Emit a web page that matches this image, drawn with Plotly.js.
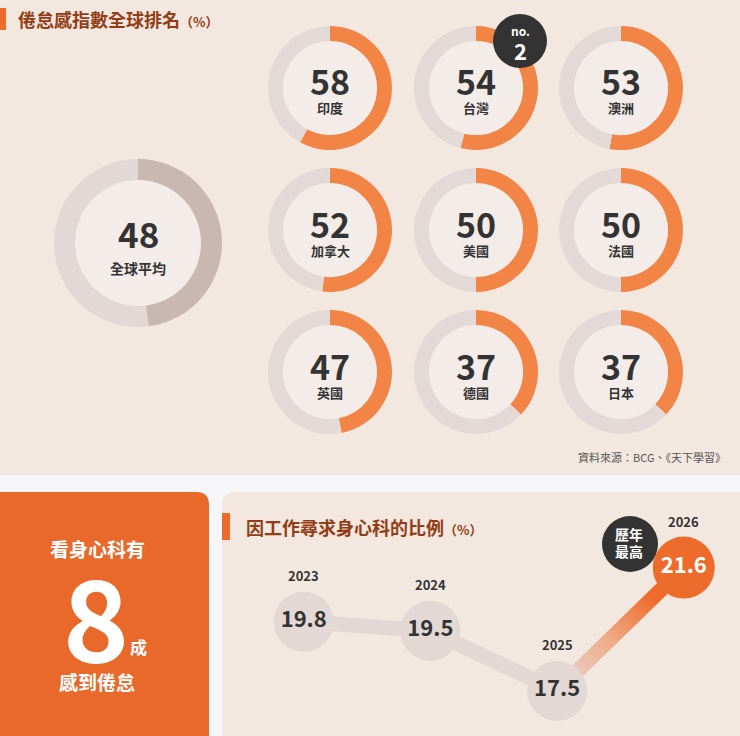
<!DOCTYPE html>
<html>
<head>
<meta charset="utf-8">
<script src="https://cdn.plot.ly/plotly-3.0.1.min.js"></script>
<style>
  html, body { margin: 0; padding: 0; background: #f6f5f7; }
  #chart { width: 740px; height: 736px; }
</style>
</head>
<body>
<div id="chart"></div>
<script>
// ---------- DATA ----------
const countries = ['印度', '台灣', '澳洲', '加拿大', '美國', '法國', '英國', '德國', '日本'];
const burnout = [58, 54, 53, 52, 50, 50, 47, 37, 37];
const globalLabel = '全球平均';
const globalAvg = 48;
const rankBadge = 'no.';
const rankNo = '2';

const years = [2023, 2024, 2025, 2026];
const psychShare = [19.8, 19.5, 17.5, 21.6];

const title1 = '倦怠感指數全球排名';
const title2 = '因工作尋求身心科的比例';
const unitText = '（%）';
const sourceText = '資料來源：BCG、《天下學習》';
const highBadge = ['歷年', '最高'];
const cardTop = '看身心科有';
const cardBig = '8';
const cardUnit = '成';
const cardBottom = '感到倦怠';

// ---------- STYLE / LAYOUT HELPERS ----------
const W = 740, H = 736;
const px = x => x / W;
const py = y => 1 - y / H;
const FONT = '"Noto Sans CJK TC", "Noto Sans", sans-serif';
const ORANGE = '#f28446';
const DEEP_ORANGE = '#e8692a';
const RING_GRAY = '#e3d9d6';
const BEIGE = '#f3e8e0';
const DARK = '#333333';
const BROWN = '#923d16';

const cols = [330, 476, 621];
const rows = [88, 230, 372];
const R = 62;

const traces = [];
const shapes = [];
const annotations = [];

// backgrounds
shapes.push({type: 'rect', xref: 'paper', yref: 'paper', x0: 0, x1: 1, y0: py(475), y1: 1,
  fillcolor: BEIGE, line: {width: 0}, layer: 'below'});
function roundedPath(x0, y0, x1, y1, corner, rad) {
  const P = (x, y) => px(x) + ',' + py(y);
  if (corner === 'tr') {
    return 'M' + P(x0, y1) + ' L' + P(x0, y0) + ' L' + P(x1 - rad, y0) +
      ' Q' + P(x1, y0) + ' ' + P(x1, y0 + rad) + ' L' + P(x1, y1) + ' Z';
  }
  return 'M' + P(x0, y1) + ' L' + P(x0, y0 + rad) + ' Q' + P(x0, y0) + ' ' + P(x0 + rad, y0) +
    ' L' + P(x1, y0) + ' L' + P(x1, y1) + ' Z';
}
shapes.push({type: 'path', xref: 'paper', yref: 'paper', path: roundedPath(0, 492, 209, 737, 'tr', 13),
  fillcolor: DEEP_ORANGE, line: {width: 0}, layer: 'below'});
shapes.push({type: 'path', xref: 'paper', yref: 'paper', path: roundedPath(222, 492, 741, 737, 'tl', 13),
  fillcolor: BEIGE, line: {width: 0}, layer: 'below'});

// title bars
shapes.push({type: 'rect', xref: 'paper', yref: 'paper', x0: 0, x1: px(6), y0: py(30), y1: py(8),
  fillcolor: '#ee6c2b', line: {width: 0}, layer: 'below'});
shapes.push({type: 'rect', xref: 'paper', yref: 'paper', x0: px(222), x1: px(230), y0: py(540), y1: py(513),
  fillcolor: '#ee6c2b', line: {width: 0}, layer: 'below'});

function circleShape(cx, cy, r, color, layer) {
  return {type: 'circle', xref: 'paper', yref: 'paper', x0: px(cx - r), x1: px(cx + r),
    y0: py(cy + r), y1: py(cy - r), fillcolor: color, line: {width: 0}, layer: layer};
}
function ann(text, x, y, size, color, opts) {
  return Object.assign({text: text, xref: 'paper', yref: 'paper', x: px(x), y: py(y),
    xanchor: 'center', yanchor: 'middle', showarrow: false, borderpad: 0,
    font: {family: FONT, size: size, color: color, weight: 700}}, opts || {});
}

// ---------- GLOBAL DONUT ----------
const G = {cx: 138, cy: 243, r: 84};
shapes.push(circleShape(G.cx, G.cy, G.r * 0.75, '#f4ece8', 'below'));
traces.push({
  type: 'pie', values: [globalAvg, 100 - globalAvg], sort: false, direction: 'clockwise', rotation: 0,
  hole: 0.75, textinfo: 'none', hoverinfo: 'skip', showlegend: false,
  marker: {colors: ['#c9b8b2', '#e2d8d5'], line: {width: 0}},
  domain: {x: [px(G.cx - G.r), px(G.cx + G.r)], y: [py(G.cy + G.r), py(G.cy - G.r)]}
});
annotations.push(ann(String(globalAvg), G.cx, G.cy - 11, 35, DARK));
annotations.push(ann(globalLabel, G.cx, G.cy + 25, 14, DARK));

// ---------- COUNTRY DONUTS ----------
countries.forEach((c, i) => {
  const cx = cols[i % 3], cy = rows[Math.floor(i / 3)];
  shapes.push(circleShape(cx, cy, R * 0.76, '#f4ece8', 'below'));
  traces.push({
    type: 'pie', values: [burnout[i], 100 - burnout[i]], sort: false, direction: 'clockwise', rotation: 0,
    hole: 0.76, textinfo: 'none', hoverinfo: 'skip', showlegend: false,
    marker: {colors: [ORANGE, RING_GRAY], line: {width: 0}},
    domain: {x: [px(cx - R), px(cx + R)], y: [py(cy + R), py(cy - R)]}
  });
  annotations.push(ann(String(burnout[i]), cx, cy - 7, 34, DARK));
  annotations.push(ann(c, cx, cy + 20, 13, DARK));
});

// rank badge on Taiwan
shapes.push(circleShape(520, 41, 27, '#333333', 'above'));
annotations.push(ann(rankBadge, 520, 30, 12, '#ffffff'));
annotations.push(ann(rankNo, 520, 50, 22, '#ffffff'));

// titles & source
annotations.push(ann(title1 + '<span style="font-size:13px">' + unitText + '</span>', 17, 19, 18, BROWN,
  {xanchor: 'left'}));
annotations.push(ann(sourceText, 727, 457, 11, '#555555',
  {xanchor: 'right', font: {family: FONT, size: 11, color: '#555555', weight: 400}}));
annotations.push(ann(title2 + '<span style="font-size:13px">' + unitText + '</span>', 245, 527, 18, BROWN,
  {xanchor: 'left'}));

// left card
annotations.push(ann(cardTop, 97, 548, 19, '#ffffff'));
annotations.push(ann(cardBig, 96, 613, 112, '#ffffff'));
annotations.push(ann(cardUnit, 138, 646, 17, '#ffffff'));
annotations.push(ann(cardBottom, 97, 681, 19, '#ffffff'));

// ---------- LINE CHART ----------
shapes.push(circleShape(630, 544, 28, '#333333', 'below'));
annotations.push(ann(highBadge[0], 629, 534, 14, '#ffffff'));
annotations.push(ann(highBadge[1], 629, 551, 14, '#ffffff'));

const n = years.length;
traces.push({
  type: 'scatter', mode: 'lines', x: years.slice(0, n - 1), y: psychShare.slice(0, n - 1),
  line: {color: '#e3d8d4', width: 15}, hoverinfo: 'skip', showlegend: false, cliponaxis: false,
  xaxis: 'x', yaxis: 'y'
});
traces.push({
  type: 'scatter', mode: 'lines', x: years.slice(n - 2), y: psychShare.slice(n - 2),
  line: {color: '#ee6c2b', width: 15}, hoverinfo: 'skip', showlegend: false, cliponaxis: false,
  xaxis: 'x', yaxis: 'y'
});
traces.push({
  type: 'scatter', mode: 'markers+text', x: years, y: psychShare,
  text: psychShare.map(v => v.toFixed(1)), textposition: 'middle center',
  textfont: {family: FONT, size: 22, weight: 700,
    color: years.map((y, i) => i === n - 1 ? '#ffffff' : DARK)},
  marker: {size: years.map((y, i) => i === n - 1 ? 62 : 60), opacity: 1,
    color: years.map((y, i) => i === n - 1 ? '#ee6c2b' : '#e3d8d4'), line: {width: 0}},
  hoverinfo: 'skip', showlegend: false, cliponaxis: false, xaxis: 'x', yaxis: 'y'
});
years.forEach((yr, i) => {
  annotations.push({text: String(yr), xref: 'x', yref: 'y', x: yr, y: psychShare[i], yshift: 46,
    showarrow: false, xanchor: 'center', yanchor: 'middle', borderpad: 0,
    font: {family: FONT, size: 13, color: DARK, weight: 700}});
});

const layout = {
  width: W, height: H,
  margin: {l: 0, r: 0, t: 0, b: 0, pad: 0},
  paper_bgcolor: '#f6f5f7', plot_bgcolor: 'rgba(0,0,0,0)',
  showlegend: false,
  xaxis: {domain: [px(222), 1], range: [2022.355, 2026.444], visible: false, fixedrange: true},
  yaxis: {domain: [0, py(492)], range: [16.004, 24.11], visible: false, fixedrange: true},
  shapes: shapes,
  annotations: annotations,
  font: {family: FONT}
};

Plotly.newPlot('chart', traces, layout, {displayModeBar: false, staticPlot: true}).then(() => {
  const svg = document.querySelector('#chart .main-svg');
  const NS = 'http://www.w3.org/2000/svg';
  let defs = svg.querySelector('defs');
  if (!defs) { defs = document.createElementNS(NS, 'defs'); svg.insertBefore(defs, svg.firstChild); }
  const lg = document.createElementNS(NS, 'linearGradient');
  lg.setAttribute('id', 'segGrad');
  lg.setAttribute('x1', '0'); lg.setAttribute('y1', '1');
  lg.setAttribute('x2', '1'); lg.setAttribute('y2', '0');
  [['0', '#e4d8d4'], ['0.4', '#efae8c'], ['0.75', '#ee6c2b'], ['1', '#ee6c2b']].forEach(s => {
    const st = document.createElementNS(NS, 'stop');
    st.setAttribute('offset', s[0]); st.setAttribute('stop-color', s[1]);
    lg.appendChild(st);
  });
  defs.appendChild(lg);
  const tr = document.querySelectorAll('#chart .scatterlayer .trace');
  if (tr.length > 1) {
    const p = tr[1].querySelector('path.js-line');
    if (p) p.style.stroke = 'url(#segGrad)';
  }
});
</script>
</body>
</html>
